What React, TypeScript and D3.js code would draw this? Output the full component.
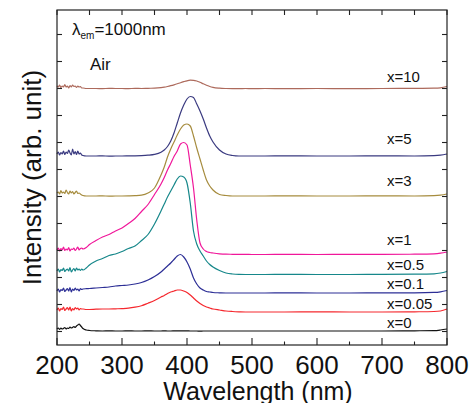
import React from "react";
import * as d3 from "d3";

// Wavelength grid (nm)
const wavelengths = [
  200, 202, 204, 206, 208, 210, 212, 214, 216, 218, 220, 222, 224, 226, 228, 230, 232, 234, 236, 238, 240,
  245, 250,
  260, 270, 280, 290, 300, 310, 320, 330, 340, 350,
  360, 365, 370, 375, 380, 385, 390, 395, 400, 405, 410, 415, 420, 425, 430, 435, 440,
  450, 460, 470, 480, 490, 500,
  520, 550, 600, 650, 700, 750, 780, 790, 800,
];

// Intensities (arb. unit, vertically offset stack)
const x0 = [
  16, 17, 15.5, 17, 16, 16.5, 17.5, 16, 17, 16.5, 18, 17, 17.5, 18.5, 17.5, 19, 20, 21, 19.5, 18, 16.5,
  15, 14.5,
  14.2, 14, 14.1, 14, 14, 14.1, 14, 14, 14.1, 14,
  14, 14.1, 14, 14, 14.1, 14.2, 14.2, 14.1, 14.1, 14, 14, 14, 13.9, 14, 14, 14, 14,
  14, 14, 14, 14, 14, 14,
  14, 14, 14, 14, 14, 14.2, 14.4, 15, 16,
];
const x005 = [
  35, 37, 34, 36.5, 35.5, 38, 34.5, 36, 37.5, 35, 38, 34, 36.5, 35, 37.5, 36, 37, 35, 36.5, 36, 36,
  35.5, 35.5,
  35.8, 36, 36, 36.2, 36.4, 36.8, 37.8, 39.3, 41.8, 44.5,
  48, 49.5, 51.5, 53, 54, 55, 55, 54, 52.5, 50, 47, 44, 41.5, 39.5, 38, 37, 36,
  35, 34, 33.5, 33.2, 33, 33,
  33, 33, 33.1, 33, 33, 33.2, 33.5, 34, 36,
];
const x01 = [
  54, 56, 53, 55.5, 54.5, 57, 53.5, 55, 56.5, 54, 57.5, 53, 56, 54.5, 57, 55, 56, 54, 56.5, 55.5, 56,
  56.3, 56.5,
  57, 57.5, 58, 59, 59.5, 60, 61, 62.5, 65, 68.5,
  73, 76, 79, 82, 85.5, 89, 90.5, 88, 83, 76, 67, 61, 57, 55, 53.5, 53, 52.5,
  52.2, 52, 52, 52, 52, 52,
  52, 52.1, 52, 52, 52.1, 52.2, 52.6, 53.2, 54.5,
];
const x05 = [
  74, 76, 73, 75.5, 74.5, 77, 73.5, 75, 76, 74, 77.5, 73, 75, 76.5, 74, 77, 75, 76, 74.5, 76, 75,
  77, 80,
  84, 86.5, 89.5, 91, 93.5, 96.5, 99, 104.5, 110.5, 121,
  134, 141, 148, 154, 160, 166, 169, 168, 162, 142, 114, 101, 94, 89, 84, 80.5, 78,
  74.5, 72, 71, 70.6, 70.5, 70.5,
  70.5, 70.6, 70.5, 70.5, 70.6, 70.8, 71.2, 72, 73.5,
];
const x1 = [
  95, 97, 94, 96.5, 95, 98, 94.5, 96, 95, 97.5, 94, 96, 95.5, 97, 94.5, 96, 98, 95, 96.5, 97, 96,
  97.5, 100.5,
  104.5, 108, 110.5, 114, 117, 121.5, 126.5, 133.5, 140.5, 150.5,
  161, 167.5, 175, 181.5, 188.5, 194, 201, 202.5, 200, 180, 157, 125, 102, 96, 93.5, 92.5, 92,
  91.2, 90.8, 90.7, 90.6, 90.6, 90.5,
  90.5, 90.6, 90.5, 90.6, 90.6, 90.8, 91.2, 91.8, 93,
];
const x3 = [
  152, 153, 151, 154.5, 152, 153, 151.5, 155, 152.5, 151, 154, 152, 153.5, 151, 152.5, 154, 151.5, 152, 151, 150, 149.5,
  149, 149,
  149, 149.1, 148.9, 149, 149, 149.1, 149.3, 149.8, 152, 157,
  170, 178, 188, 196, 203, 210, 216, 220, 221, 219, 209, 197, 186, 175, 165, 159, 155,
  150.5, 149.5, 149, 149, 149, 149,
  149, 149.1, 149, 149, 149.1, 149, 149.3, 149.8, 151,
];
const x5 = [
  191, 193, 190, 192.5, 191, 194, 190.5, 193, 191.5, 195, 192, 190, 196, 191, 193.5, 190.5, 194, 191, 192, 190, 189.5,
  189, 189,
  189, 189.1, 188.9, 189, 189, 189.1, 189.2, 189.4, 189.8, 190.6,
  192.8, 195, 198.5, 204, 212, 222, 232, 240, 246, 248.5, 247.5, 241, 234, 226, 217, 209, 203,
  195, 191, 189.5, 189, 189, 189,
  189, 189.1, 189, 189, 189.1, 189, 189.3, 189.8, 191,
];
const x10 = [
  259, 258, 260, 257.5, 259, 258, 260.5, 258, 259, 257, 259.5, 258, 260, 258.5, 259, 257.5, 259, 258, 258.5, 257, 257,
  256.5, 256.5,
  256.5, 256.4, 256.6, 256.5, 256.5, 256.4, 256.6, 256.5, 256.7, 256.8,
  257.3, 257.8, 258.5, 259.3, 260.2, 261.2, 262.3, 263.3, 264.2, 264.8, 264.7, 264, 262.7, 261.2, 259.8, 258.5, 257.6,
  256.8, 256.5, 256.4, 256.4, 256.5, 256.4,
  256.5, 256.4, 256.5, 256.4, 256.5, 256.6, 256.8, 257.2, 258.5,
];

const seriesNames = ["x=0", "x=0.05", "x=0.1", "x=0.5", "x=1", "x=3", "x=5", "x=10"];
const seriesValues = [x0, x005, x01, x05, x1, x3, x5, x10];

const xTicks = [200, 250, 300, 350, 400, 450, 500, 550, 600, 650, 700, 750, 800];
const xTickLabels = [200, 300, 400, 500, 600, 700, 800];

const COLORS = ["#111111", "#f5282e", "#2d2f96", "#16878a", "#f0179a", "#a68c3e", "#3a3a80", "#ad6a5c"];
const LABEL_DY = [3, 3, 4, 4.5, 9.5, 10, 12, 6.5];

export default function App() {
  const W = 472;
  const H = 403;
  const L = 57, R = 447, T = 10, B = 345;
  const x = d3.scaleLinear().domain([200, 800]).range([L, R]);
  const y = d3.scaleLinear().domain([0, 335]).range([B, T]);
  const yTicks = d3.range(13.5, 335, 27);
  const line = d3
    .line<number>()
    .x((_, i) => x(wavelengths[i]))
    .y((d) => y(d))
    .curve(d3.curveMonotoneX);
  const font = "'Liberation Sans', Arial, Helvetica, sans-serif";

  return (
    <svg
      width={W}
      height={H}
      viewBox={`0 0 ${W} ${H}`}
      style={{ position: "absolute", left: 0, top: 0, background: "#fff" }}
      fontFamily={font}
    >
      <rect x={0} y={0} width={W} height={H} fill="#fff" />
      {seriesValues.map((vals, si) => (
        <path key={si} d={line(vals) || ""} fill="none" stroke={COLORS[si]} strokeWidth={1.2} strokeLinejoin="round" />
      ))}
      {seriesNames.map((n, si) => {
        const vals = seriesValues[si];
        return (
          <text key={n} x={387} y={y(vals[vals.length - 4]) - LABEL_DY[si]} fontSize={15} fill="#111">
            {n}
          </text>
        );
      })}
      {/* frame */}
      <rect x={L} y={T} width={R - L} height={B - T} fill="none" stroke="#222" strokeWidth={1.2} />
      {xTicks.map((t) => (
        <g key={t}>
          <line x1={x(t)} x2={x(t)} y1={B} y2={B - (t % 100 === 0 ? 7 : 3.5)} stroke="#222" strokeWidth={1.1} />
          <line x1={x(t)} x2={x(t)} y1={T} y2={T + 5} stroke="#222" strokeWidth={1.1} />
        </g>
      ))}
      {yTicks.map((t) => (
        <g key={t}>
          <line x1={L} x2={L + 5} y1={y(t)} y2={y(t)} stroke="#222" strokeWidth={1.1} />
          <line x1={R} x2={R - 5} y1={y(t)} y2={y(t)} stroke="#222" strokeWidth={1.1} />
        </g>
      ))}
      {xTickLabels.map((t) => (
        <text key={t} x={x(t)} y={374} fontSize={26} textAnchor="middle" fill="#111">
          {t}
        </text>
      ))}
      <text x={258} y={400} fontSize={25} textAnchor="middle" fill="#111">
        Wavelength (nm)
      </text>
      <text
        transform={`translate(41, ${(T + B) / 2}) rotate(-90)`}
        fontSize={26}
        textAnchor="middle"
        fill="#111"
      >
        Intensity (arb. unit)
      </text>
      <text x={72} y={35} fontSize={17} fill="#111">
        λ
        <tspan fontSize={10} dy={4}>em</tspan>
        <tspan fontSize={17} dy={-4}>=1000nm</tspan>
      </text>
      <text x={90} y={70} fontSize={17} fill="#111">
        Air
      </text>
    </svg>
  );
}
